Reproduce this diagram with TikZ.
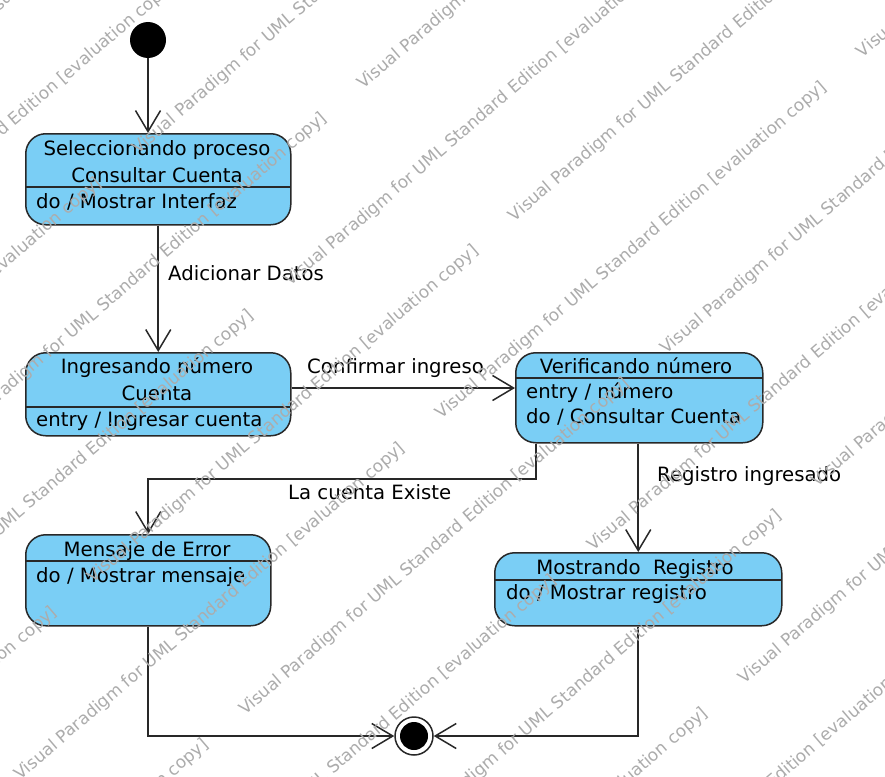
\documentclass[tikz,border=0pt]{standalone}
\usepackage{fontspec}
\setmainfont{DejaVu Sans}
\usetikzlibrary{arrows.meta}
\definecolor{stfill}{RGB}{122,206,245}
\definecolor{stline}{RGB}{40,40,40}
\definecolor{wmgray}{RGB}{172,172,172}
\begin{document}
\begin{tikzpicture}[x=1pt,y=-1pt,
  statebox/.style={draw=stline, line width=1.5pt, fill=stfill, rounded corners=20pt, inner sep=0pt, anchor=north west},
  divider/.style={draw=stline, line width=1.5pt},
  lbl/.style={font=\fontsize{19.7}{23}\selectfont, inner sep=0pt, text=black},
  conn/.style={draw=stline, line width=1.6pt, -{Straight Barb[length=21pt,width=25pt,line width=1.5pt]}},
  wm/.style={font=\fontsize{17}{18}\selectfont, text=wmgray, rotate=40.6, anchor=base west, inner sep=0pt}
]
\useasboundingbox (0,0) rectangle (885,776);
\fill[white] (0,0) rectangle (885,776);

% initial and final pseudostates
\node[circle, fill=black, minimum size=36pt, inner sep=0pt] (init) at (148,40) {};
\node[circle, draw=stline, line width=1.5pt, fill=white, minimum size=38pt, inner sep=0pt] (fin) at (414,736) {};
\node[circle, fill=black, minimum size=28pt, inner sep=0pt] (finin) at (fin.center) {};

% states
\node[statebox, minimum width=265pt, minimum height=91pt] (s1) at (25,133) {};
\draw[divider] (25,187) -- (290,187);
\node[lbl, anchor=base] (s1a) at (157,155) {Seleccionando proceso};
\node[lbl, anchor=base] (s1b) at (157,182) {Consultar Cuenta};
\node[lbl, anchor=base west] (s1c) at (36,208) {do / Mostrar Interfaz};

\node[statebox, minimum width=265pt, minimum height=83pt] (s2) at (25,352) {};
\draw[divider] (25,407) -- (290,407);
\node[lbl, anchor=base] (s2a) at (157,373) {Ingresando número};
\node[lbl, anchor=base] (s2b) at (157,400) {Cuenta};
\node[lbl, anchor=base west] (s2c) at (36,426) {entry / Ingresar cuenta};

\node[statebox, minimum width=247pt, minimum height=90pt] (s3) at (515,352) {};
\draw[divider] (515,378) -- (762,378);
\node[lbl, anchor=base] (s3a) at (636,373) {Verificando número};
\node[lbl, anchor=base west] (s3b) at (526,398) {entry / número};
\node[lbl, anchor=base west] (s3c) at (526,423) {do / Consultar Cuenta};

\node[statebox, minimum width=245pt, minimum height=91pt] (s4) at (25,534) {};
\draw[divider] (25,561) -- (270,561);
\node[lbl, anchor=base] (s4a) at (147,556) {Mensaje de Error};
\node[lbl, anchor=base west] (s4b) at (36,582) {do / Mostrar mensaje};

\node[statebox, minimum width=287pt, minimum height=73pt] (s5) at (494,552) {};
\draw[divider] (494,580) -- (781,580);
\node[lbl, anchor=base] (s5a) at (635,574) {Mostrando\ \ Registro};
\node[lbl, anchor=base west] (s5b) at (506,599) {do / Mostrar registro};

% connectors
\coordinate (c23) at (300,388);
\coordinate (k1) at (536,479);
\draw[conn] (init.south) -- (init.south |- s1.north);
\draw[conn] (s1.south) -- (s2.north);
\draw[conn] (s2.east |- c23) -- (s3.west |- c23);
\draw[conn] (k1 |- s3.south) -- (k1) -| (s4.north);
\draw[conn] (s3.south -| s5.north) -- (s5.north);
\draw[conn] (s4.south) |- (fin.west);
\draw[conn] (s5.south) |- (fin.east);

% transition labels
\node[lbl, anchor=base west] (l1) at (168,280) {Adicionar Datos};
\node[lbl, anchor=base west] (l2) at (307,373) {Confirmar ingreso};
\node[lbl, anchor=base west] (l3) at (288,499) {La cuenta Existe};
\node[lbl, anchor=base west] (l4) at (657,481) {Registro ingresado};

% watermark (drawn over the diagram, as in the reference)
\begin{scope}
\clip (0,0) rectangle (885,776);
\foreach \n in {-6,...,8} {
  \foreach \m in {-2,...,3} {
    \foreach \bx/\by/\nm in {363.25/89.75/a, 138.4/154.6/b} {
      \pgfmathsetmacro\sx{\bx+\n*151.5+\m*421.4}
      \pgfmathsetmacro\sy{\by+\n*132.5-\m*361.2}
      \pgfmathparse{((\sx+385>0)&&(\sx<885)&&(\sy>0)&&(\sy-330<776))?1:0}
      \ifdim\pgfmathresult pt>0.5pt
        \node[wm] (wm\nm\n\m) at (\sx,\sy) {Visual Paradigm for UML Standard Edition [evaluation copy]};
      \fi
    }
  }
}
\end{scope}
\end{tikzpicture}
\end{document}
